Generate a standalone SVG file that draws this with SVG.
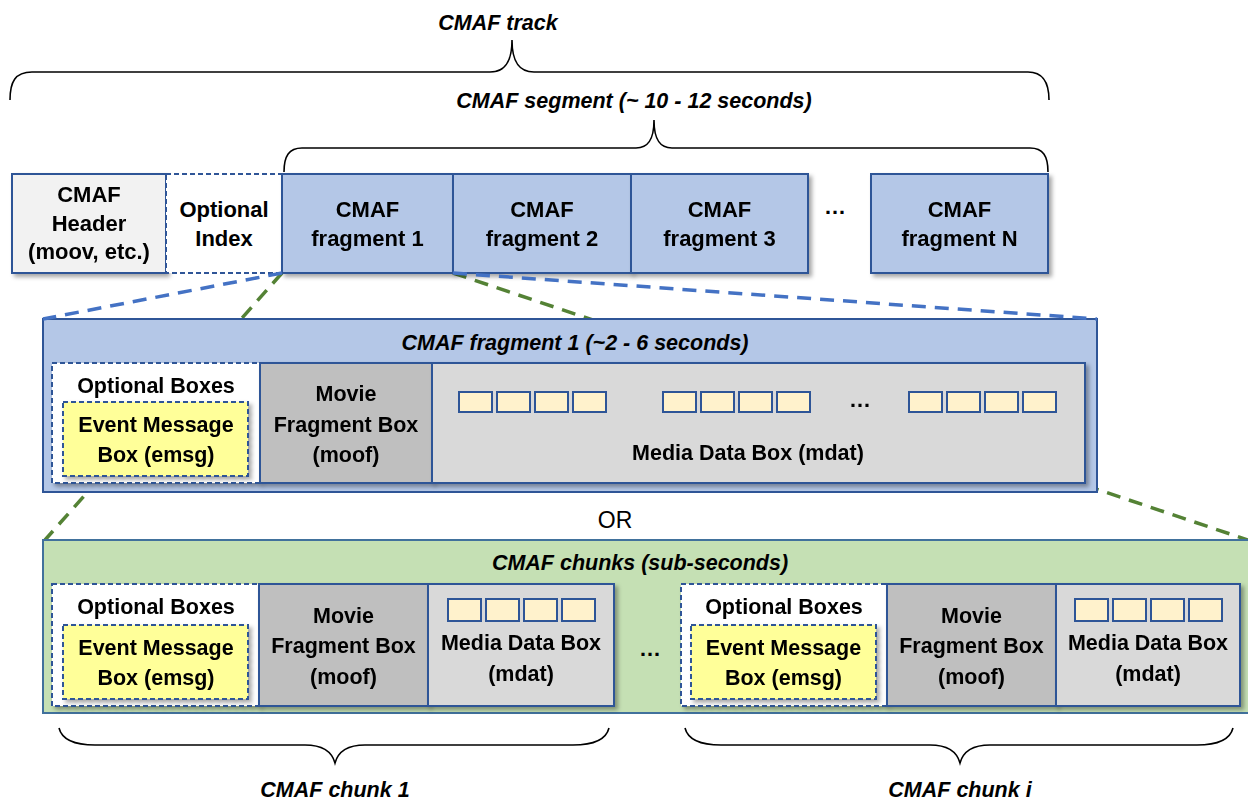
<svg xmlns="http://www.w3.org/2000/svg" width="1248" height="802" viewBox="0 0 1248 802">
<defs>
<filter id="sh" x="-10%" y="-10%" width="130%" height="130%">
<feDropShadow dx="3" dy="3" stdDeviation="2" flood-color="#000" flood-opacity="0.35"/>
</filter>
<style>
text{font-family:"Liberation Sans",Arial,sans-serif;font-weight:bold;fill:#000;text-anchor:middle}
.t22{font-size:22px}
.t21{font-size:21.5px}
.it{font-style:italic;font-size:21.5px}
.reg{font-weight:normal;font-size:23px}
.frag{fill:#B4C7E7;stroke:#2F5597;stroke-width:2}
.hdr{fill:#F2F2F2;stroke:#2F5597;stroke-width:2}
.opt{fill:#FFFFFF;stroke:#2F5597;stroke-width:2;stroke-dasharray:5 3}
.emsg{fill:#FFFF99;stroke:#2F5597;stroke-width:2;stroke-dasharray:5 3}
.moof{fill:#BFBFBF;stroke:#2F5597;stroke-width:2}
.mdat{fill:#D9D9D9;stroke:#2F5597;stroke-width:2}
.sm{fill:#FFF2CC;stroke:#2F5597;stroke-width:2}
.brace{fill:none;stroke:#000;stroke-width:1.6}
.bl{stroke:#4472C4;stroke-width:3.5;stroke-dasharray:14 9;fill:none}
.gr{stroke:#548235;stroke-width:3.5;stroke-dasharray:14 9;fill:none}
</style>
</defs>
<rect width="1248" height="802" fill="#FFFFFF"/>

<g id="braces-top">
<text class="it" x="498" y="30">CMAF track</text>
<path class="brace" d="M10,100 C10,82 15,72 32,72 L490,72 C505,72 512,62 512,40 C512,62 519,72 534,72 L1028,72 C1043,72 1049,82 1049,100"/>
<text class="it" x="634" y="108">CMAF segment (~ 10 - 12 seconds)</text>
<path class="brace" d="M284,172 C284,156 289,148 302,148 L636,148 C648,148 654,140 654,120 C654,140 660,148 672,148 L1030,148 C1043,148 1048,156 1048,172"/>
</g>

<g id="connectors-green">
<line class="gr" x1="282" y1="273" x2="45" y2="540"/>
<line class="gr" x1="453" y1="273" x2="1248" y2="540"/>
</g>

<g id="header" filter="url(#sh)">
<rect class="hdr" x="12" y="174" width="154" height="99"/>
<text class="t22" x="89" y="202">CMAF</text>
<text class="t22" x="89" y="231">Header</text>
<text class="t22" x="89" y="259">(moov, etc.)</text>
</g>
<g id="index">
<rect class="opt" x="166" y="174" width="116" height="99"/>
<text class="t22" x="224" y="217">Optional</text>
<text class="t22" x="224" y="246">Index</text>
</g>
<g id="frag1" filter="url(#sh)">
<rect class="frag" x="282" y="174" width="171" height="99"/>
<text class="t22" x="367.5" y="217">CMAF</text>
<text class="t22" x="367.5" y="246">fragment 1</text>
</g>
<g id="frag2" filter="url(#sh)">
<rect class="frag" x="453" y="174" width="178" height="99"/>
<text class="t22" x="542" y="217">CMAF</text>
<text class="t22" x="542" y="246">fragment 2</text>
</g>
<g id="frag3" filter="url(#sh)">
<rect class="frag" x="631" y="174" width="177" height="99"/>
<text class="t22" x="719.5" y="217">CMAF</text>
<text class="t22" x="719.5" y="246">fragment 3</text>
</g>
<text class="t22" x="835" y="214">…</text>
<g id="fragN" filter="url(#sh)">
<rect class="frag" x="871" y="174" width="177" height="99"/>
<text class="t22" x="959.5" y="217">CMAF</text>
<text class="t22" x="959.5" y="246">fragment N</text>
</g>

<g id="fragment-detail">
<rect class="frag" x="43" y="319" width="1054" height="173"/>
<text class="it" x="575" y="350">CMAF fragment 1 (~2 - 6 seconds)</text>
<g id="f-opt" filter="url(#sh)">
<rect class="opt" x="52" y="363" width="208" height="120"/>
<text class="t21" x="156" y="393">Optional Boxes</text>
</g>
<g id="f-emsg" filter="url(#sh)">
<rect class="emsg" x="63" y="402" width="185" height="74"/>
<text class="t21" x="156" y="432">Event Message</text>
<text class="t21" x="156" y="462">Box (emsg)</text>
</g>
<g id="f-moof" filter="url(#sh)">
<rect class="moof" x="260" y="363" width="172" height="120"/>
<text class="t21" x="346" y="401">Movie</text>
<text class="t21" x="346" y="432">Fragment Box</text>
<text class="t21" x="346" y="462">(moof)</text>
</g>
<g id="f-mdat" filter="url(#sh)">
<rect class="mdat" x="432" y="363" width="653" height="120"/>
<rect class="sm" x="459" y="392" width="33" height="20"/>
<rect class="sm" x="497" y="392" width="33" height="20"/>
<rect class="sm" x="535" y="392" width="33" height="20"/>
<rect class="sm" x="573" y="392" width="33" height="20"/>
<rect class="sm" x="663" y="392" width="33" height="20"/>
<rect class="sm" x="701" y="392" width="33" height="20"/>
<rect class="sm" x="739" y="392" width="33" height="20"/>
<rect class="sm" x="777" y="392" width="33" height="20"/>
<text class="t22" x="860" y="407">…</text>
<rect class="sm" x="909" y="392" width="33" height="20"/>
<rect class="sm" x="947" y="392" width="33" height="20"/>
<rect class="sm" x="985" y="392" width="33" height="20"/>
<rect class="sm" x="1023" y="392" width="33" height="20"/>
<text class="t21" x="748" y="460">Media Data Box (mdat)</text>
</g>
</g>

<g id="connectors-blue">
<line class="bl" x1="282" y1="273" x2="43" y2="319"/>
<line class="bl" x1="453" y1="273" x2="1097" y2="319"/>
</g>

<text class="reg" x="615" y="528">OR</text>

<g id="chunks">
<rect x="43" y="540" width="1220" height="173" fill="#C5E0B4" stroke="#41719C" stroke-width="2"/>
<text class="it" x="640" y="570">CMAF chunks (sub-seconds)</text>
<g id="c1-opt" filter="url(#sh)">
<rect class="opt" x="52" y="584" width="207" height="122"/>
<text class="t21" x="156" y="614">Optional Boxes</text>
</g>
<g id="c1-emsg" filter="url(#sh)">
<rect class="emsg" x="63" y="625" width="185" height="74"/>
<text class="t21" x="156" y="655">Event Message</text>
<text class="t21" x="156" y="685">Box (emsg)</text>
</g>
<g id="c1-moof" filter="url(#sh)">
<rect class="moof" x="259" y="584" width="169" height="122"/>
<text class="t21" x="343.5" y="623">Movie</text>
<text class="t21" x="343.5" y="653">Fragment Box</text>
<text class="t21" x="343.5" y="684">(moof)</text>
</g>
<g id="c1-mdat" filter="url(#sh)">
<rect class="mdat" x="428" y="584" width="186" height="122"/>
<rect class="sm" x="448" y="599" width="33" height="22"/>
<rect class="sm" x="486" y="599" width="33" height="22"/>
<rect class="sm" x="524" y="599" width="33" height="22"/>
<rect class="sm" x="562" y="599" width="33" height="22"/>
<text class="t21" x="521" y="650">Media Data Box</text>
<text class="t21" x="521" y="681">(mdat)</text>
</g>
<text class="t22" x="650" y="656">…</text>
<g id="ci-opt" filter="url(#sh)">
<rect class="opt" x="681" y="584" width="206" height="122"/>
<text class="t21" x="784" y="614">Optional Boxes</text>
</g>
<g id="ci-emsg" filter="url(#sh)">
<rect class="emsg" x="691" y="625" width="185" height="74"/>
<text class="t21" x="783.5" y="655">Event Message</text>
<text class="t21" x="783.5" y="685">Box (emsg)</text>
</g>
<g id="ci-moof" filter="url(#sh)">
<rect class="moof" x="887" y="584" width="169" height="122"/>
<text class="t21" x="971.5" y="623">Movie</text>
<text class="t21" x="971.5" y="653">Fragment Box</text>
<text class="t21" x="971.5" y="684">(moof)</text>
</g>
<g id="ci-mdat" filter="url(#sh)">
<rect class="mdat" x="1056" y="584" width="184" height="122"/>
<rect class="sm" x="1075" y="599" width="33" height="22"/>
<rect class="sm" x="1113" y="599" width="33" height="22"/>
<rect class="sm" x="1151" y="599" width="33" height="22"/>
<rect class="sm" x="1189" y="599" width="33" height="22"/>
<text class="t21" x="1148" y="650">Media Data Box</text>
<text class="t21" x="1148" y="681">(mdat)</text>
</g>
</g>

<g id="braces-bottom">
<path class="brace" d="M59,728 C62,740 75,745 95,745 L305,745 C322,745 332,752 335,763 C338,752 348,745 365,745 L573,745 C594,745 606,740 609,728"/>
<text class="it" x="335" y="797">CMAF chunk 1</text>
<path class="brace" d="M685,728 C688,740 701,745 721,745 L930,745 C947,745 957,752 960,763 C963,752 973,745 990,745 L1197,745 C1218,745 1230,740 1233,728"/>
<text class="it" x="960" y="797">CMAF chunk i</text>
</g>
</svg>
